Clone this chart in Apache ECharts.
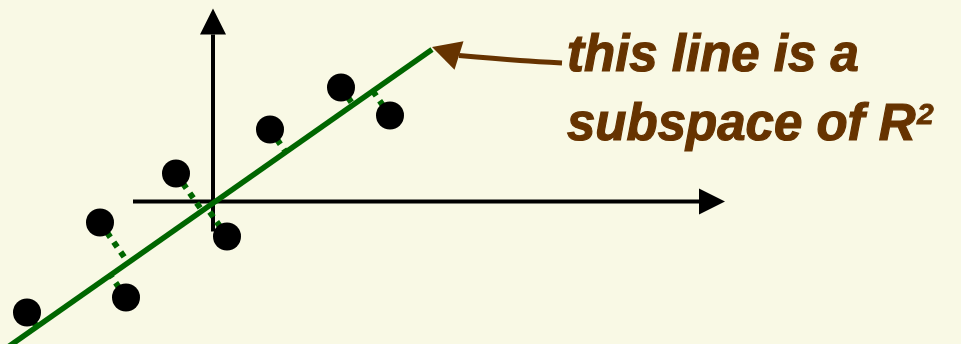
<!DOCTYPE html>
<html>
<head>
<meta charset="utf-8">
<title>subspace of R2</title>
<script src="https://cdn.jsdelivr.net/npm/echarts@6/dist/echarts.min.js"></script>
<style>
	html, body { margin: 0; padding: 0; background: #f9f9e5; }
	#chart { width: 961px; height: 344px; }
</style>
</head>
<body>
<div id="chart"></div>
<script>
	// sample points (x, y)
	var points = [
		[-18.6, -11.1], [-11.3, -2.1], [-8.7, -9.6], [-3.7, 2.8],
		[1.4, -3.5], [5.7, 7.2], [12.8, 11.4], [17.7, 8.6]
	];
	// the line through the origin (two ends)
	var fitLine = [[-21.5, -15.25], [21.9, 15.2]];
	// axes: start -> arrow tip
	var xAxisLine = [[-8.0, 0], [51.2, 0]];
	var yAxisLine = [[0, -3.0], [0, 19.3]];
	// annotation arrow: tail ... base of head, tip
	var pointer = [[34.9, 13.85], [30.7, 14.1], [24.6, 14.6], [21.9, 15.45]];
	var noteLines = ['this line is a', 'subspace of R'];
	var noteSup = '2';

	// foot of the perpendicular from p onto fitLine
	function project(p) {
		var a = fitLine[0], b = fitLine[1];
		var dx = b[0] - a[0], dy = b[1] - a[1];
		var t = ((p[0] - a[0]) * dx + (p[1] - a[1]) * dy) / (dx * dx + dy * dy);
		return [a[0] + t * dx, a[1] + t * dy];
	}

	// triangle head in pixels, pointing from "from" to "tip"
	function arrowHead(from, tip, len, half) {
		var dx = tip[0] - from[0], dy = tip[1] - from[1];
		var d = Math.sqrt(dx * dx + dy * dy);
		var ux = dx / d, uy = dy / d;
		var bx = tip[0] - ux * len, by = tip[1] - uy * len;
		return {
			base: [bx, by],
			points: [tip, [bx - uy * half, by + ux * half], [bx + uy * half, by - ux * half]]
		};
	}

	var noteStyle = {
		font: 'italic bold 51px "Liberation Sans"',
		fill: '#663300',
		stroke: '#663300',
		lineWidth: 1.2,
		verticalAlign: 'middle'
	};

	var chart = echarts.init(document.getElementById('chart'), null, { renderer: 'canvas' });

	var option = {
		backgroundColor: '#f9f9e5',
		animation: false,
		grid: { left: 0, right: 0, top: 0, bottom: 0 },
		xAxis: { type: 'value', min: -21.3, max: 74.8, show: false },
		yAxis: { type: 'value', min: -14.25, max: 20.15, show: false },
		graphic: [
			{ type: 'text', x: 567, y: 57, style: Object.assign({ text: noteLines[0] }, noteStyle) },
			{ type: 'text', x: 567, y: 126, style: Object.assign({ text: noteLines[1] }, noteStyle) },
			{
				type: 'text', x: 917, y: 116,
				style: Object.assign({}, noteStyle, { text: noteSup, font: 'italic bold 30px "Liberation Sans"', lineWidth: 0.8 })
			}
		],
		series: [
			// axes with arrows
			{
				type: 'custom',
				clip: false,
				renderItem: function (params, api) {
					var a = api.coord([api.value(0), api.value(1)]);
					var b = api.coord([api.value(2), api.value(3)]);
					var head = arrowHead(a, b, 26, 13);
					return {
						type: 'group',
						children: [
							{ type: 'line', shape: { x1: a[0], y1: a[1], x2: head.base[0], y2: head.base[1] }, style: { stroke: '#000', lineWidth: 4 } },
							{ type: 'polygon', shape: { points: head.points }, style: { fill: '#000' } }
						]
					};
				},
				data: [xAxisLine[0].concat(xAxisLine[1]), yAxisLine[0].concat(yAxisLine[1])]
			},
			// the subspace line
			{
				type: 'line',
				data: fitLine,
				symbol: 'none',
				lineStyle: { color: '#006600', width: 5.5 }
			},
			// dotted projections
			{
				type: 'lines',
				coordinateSystem: 'cartesian2d',
				data: points.map(function (p) { return { coords: [p, project(p)] }; }),
				lineStyle: { color: '#006600', width: 6, type: [6, 6], opacity: 1, curveness: 0 }
			},
			// points
			{
				type: 'scatter',
				data: points,
				symbolSize: 28,
				itemStyle: { color: '#000', opacity: 1 }
			},
			// annotation arrow
			{
				type: 'custom',
				clip: false,
				renderItem: function (params, api) {
					var pts = [];
					for (var i = 0; i < 4; i++) {
						pts.push(api.coord([api.value(i * 2), api.value(i * 2 + 1)]));
					}
					var dx = pts[3][0] - pts[2][0], dy = pts[3][1] - pts[2][1];
					var head = arrowHead(pts[2], pts[3], Math.sqrt(dx * dx + dy * dy), 15);
					return {
						type: 'group',
						children: [
							{ type: 'polyline', shape: { points: pts.slice(0, 3), smooth: 0.4 }, style: { stroke: '#663300', lineWidth: 5, fill: null } },
							{ type: 'polygon', shape: { points: head.points }, style: { fill: '#663300' } }
						]
					};
				},
				data: [pointer[0].concat(pointer[1], pointer[2], pointer[3])]
			}
		]
	};

	chart.setOption(option);
</script>
</body>
</html>
